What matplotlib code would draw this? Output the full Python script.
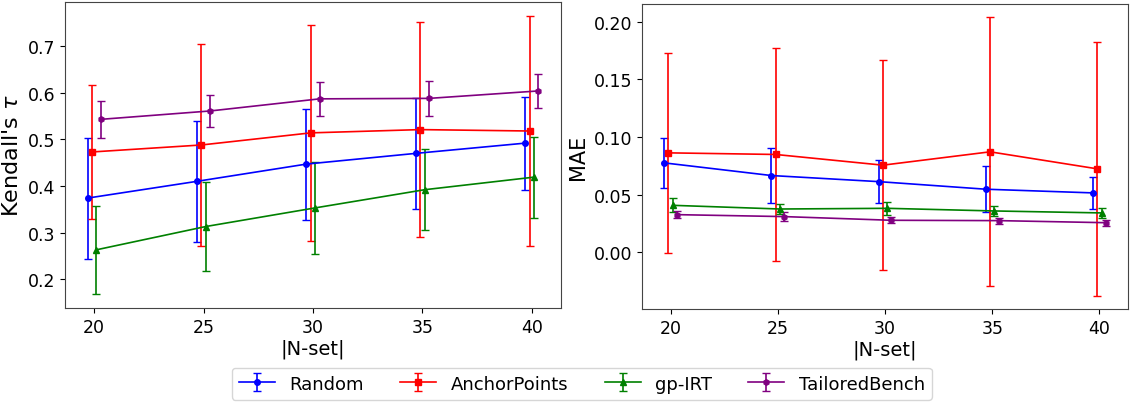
import numpy as np
import matplotlib
matplotlib.use("Agg")
import matplotlib.pyplot as plt

n_set = np.array([20, 25, 30, 35, 40])
methods = ["Random", "AnchorPoints", "gp-IRT", "TailoredBench"]
colors = ["blue", "red", "green", "purple"]
markers = ["o", "s", "^", "h"]
offsets = [-0.3, -0.1, 0.1, 0.3]

# Kendall's tau (mean, std)
tau_random = [0.374, 0.410, 0.447, 0.470, 0.492]
tau_random_err = [0.130, 0.130, 0.119, 0.119, 0.100]
tau_anchor = [0.473, 0.488, 0.514, 0.521, 0.518]
tau_anchor_err = [0.143, 0.217, 0.231, 0.230, 0.247]
tau_gpirt = [0.263, 0.313, 0.353, 0.392, 0.419]
tau_gpirt_err = [0.095, 0.096, 0.098, 0.087, 0.087]
tau_tailored = [0.543, 0.561, 0.587, 0.588, 0.604]
tau_tailored_err = [0.040, 0.035, 0.037, 0.037, 0.036]

# MAE (mean, std)
mae_random = [0.0775, 0.0665, 0.0612, 0.0546, 0.0514]
mae_random_err = [0.022, 0.024, 0.019, 0.020, 0.014]
mae_anchor = [0.0862, 0.0848, 0.0755, 0.0871, 0.0723]
mae_anchor_err = [0.087, 0.0926, 0.091, 0.117, 0.1105]
mae_gpirt = [0.0406, 0.0374, 0.0380, 0.0357, 0.0340]
mae_gpirt_err = [0.0060, 0.0047, 0.0055, 0.0044, 0.0040]
mae_tailored = [0.0325, 0.0308, 0.0276, 0.0273, 0.0255]
mae_tailored_err = [0.0030, 0.0040, 0.0026, 0.0026, 0.0026]

tau = [(tau_random, tau_random_err), (tau_anchor, tau_anchor_err),
       (tau_gpirt, tau_gpirt_err), (tau_tailored, tau_tailored_err)]
mae = [(mae_random, mae_random_err), (mae_anchor, mae_anchor_err),
       (mae_gpirt, mae_gpirt_err), (mae_tailored, mae_tailored_err)]

fig = plt.figure(figsize=(11.3, 4.1), dpi=100)
ax1 = fig.add_axes([65 / 1130, (410 - 309) / 410, (561 - 65) / 1130, (309 - 3) / 410])
ax2 = fig.add_axes([642 / 1130, (410 - 310) / 410, (1128 - 642) / 1130, (310 - 4.5) / 410])

handles = []
for ax, data in [(ax1, tau), (ax2, mae)]:
    for (vals, errs), name, c, m, off in zip(data, methods, colors, markers, offsets):
        h = ax.errorbar(n_set + off, vals, yerr=errs, color=c, marker=m,
                        markersize=4, capsize=3, linewidth=1.2, elinewidth=1.2,
                        label=name)
        if ax is ax1:
            handles.append(h)
    ax.set_xticks(n_set)
    ax.tick_params(labelsize=12.5)
    ax.set_xlabel("|N-set|", fontsize=14, labelpad=2)
    for s in ax.spines.values():
        s.set_color("#444444")

ax1.set_ylabel("Kendall's $\\tau$", fontsize=16)
ax2.set_ylabel("MAE", fontsize=15)
ax2.set_ylim(-0.0495, 0.216)

fig.legend(handles=handles, loc="lower center", ncol=4, fontsize=13,
           bbox_to_anchor=(0.515, 0.0), columnspacing=2.0)

fig.savefig("out.png", dpi=100)
